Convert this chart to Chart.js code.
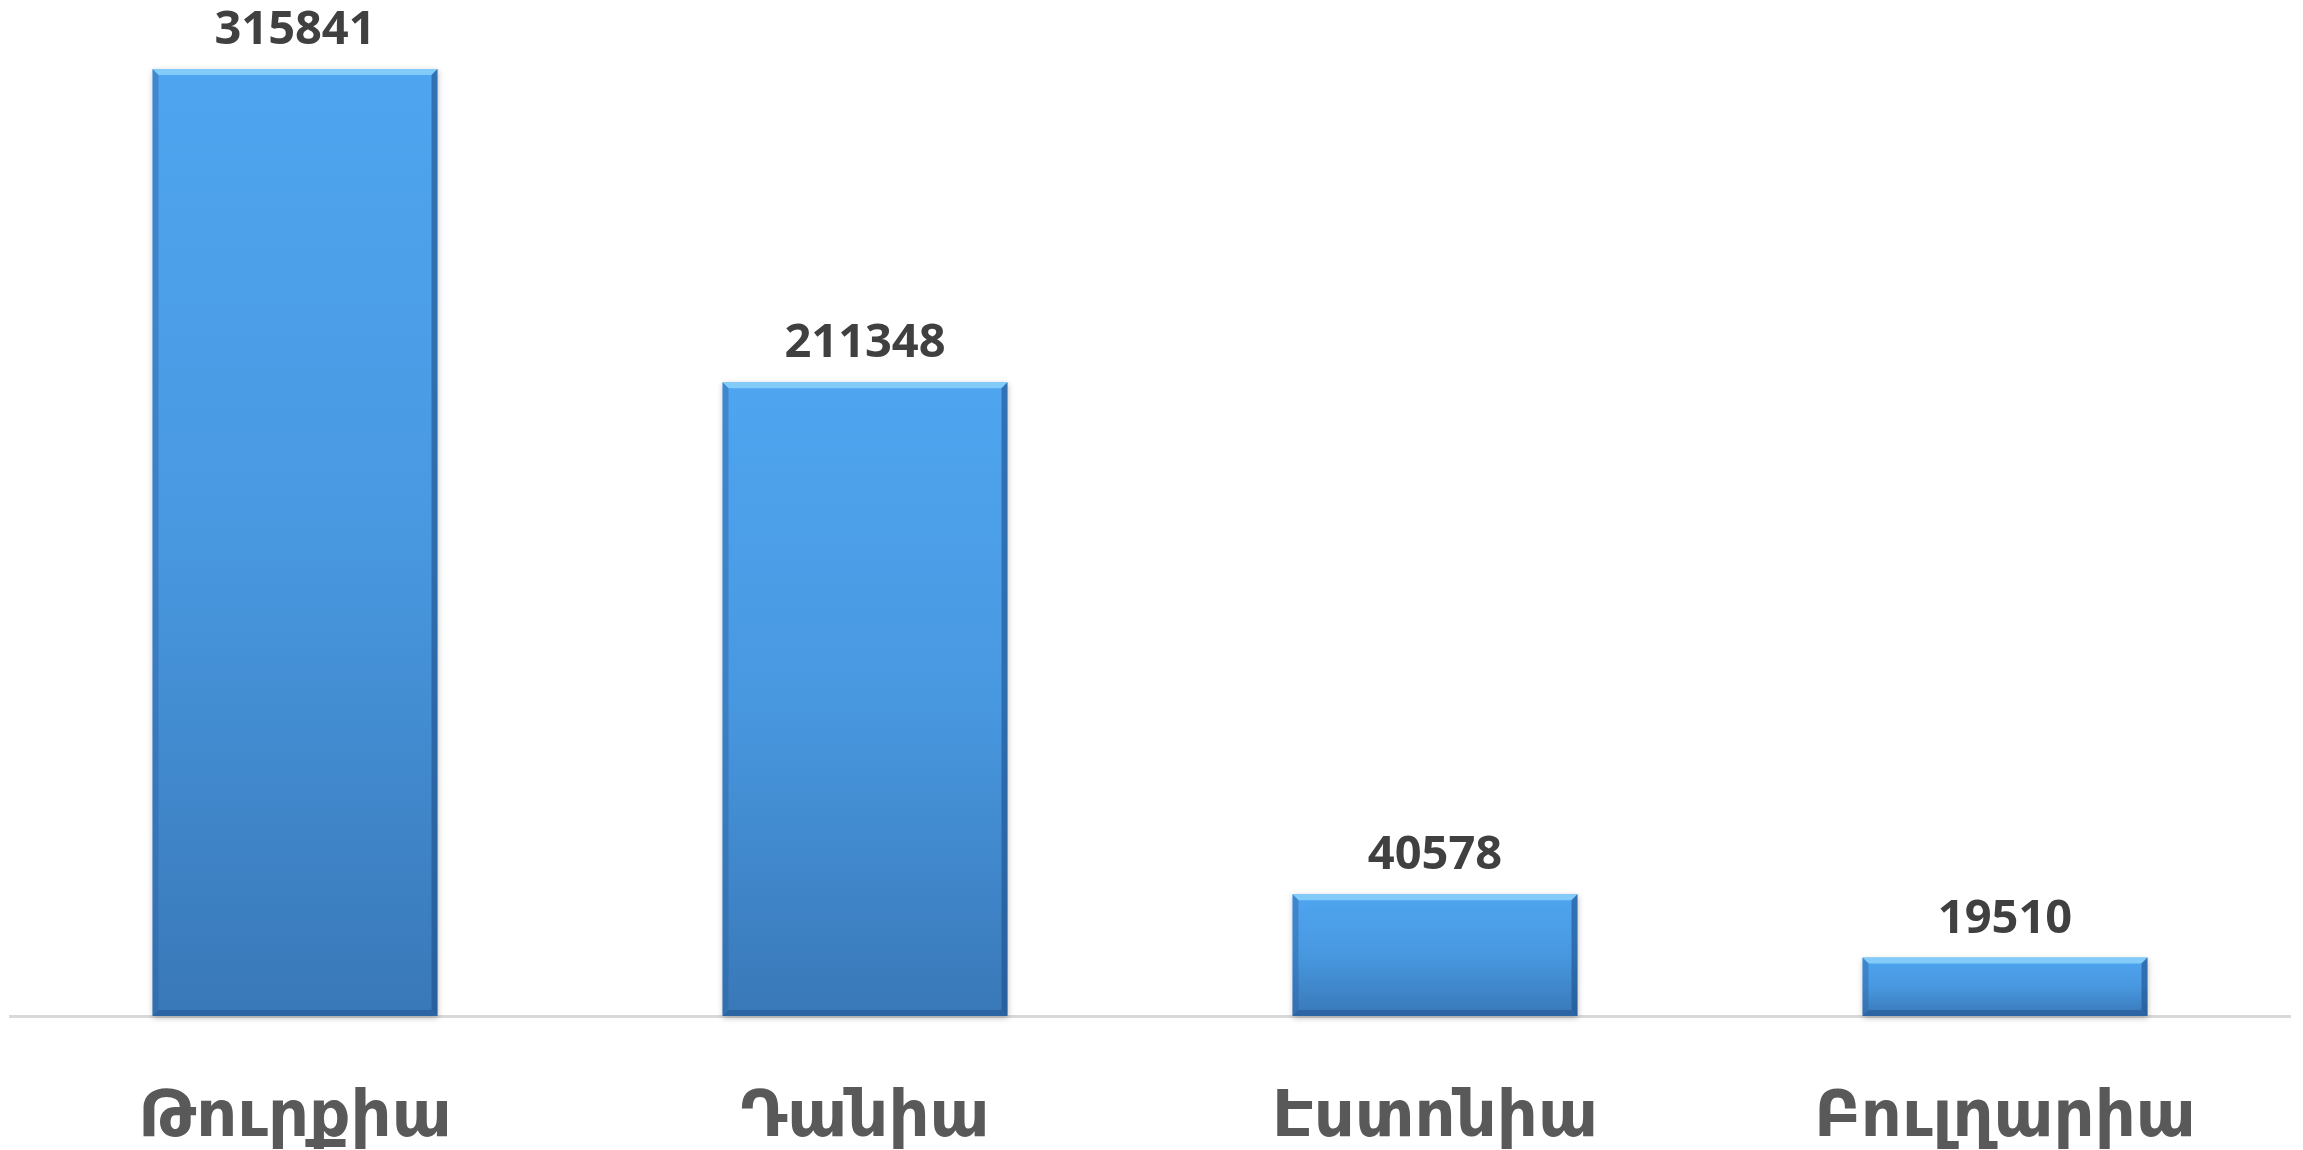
<!DOCTYPE html>
<html>
<head>
<meta charset="utf-8">
<script src="https://cdn.jsdelivr.net/npm/chart.js@4.4.1/dist/chart.umd.min.js"></script>
<style>
  html, body { margin: 0; padding: 0; background: #ffffff; }
  #wrap { width: 2303px; height: 1150px; position: relative; }
</style>
</head>
<body>
<div id="wrap"><canvas id="mycanvas"></canvas></div>
<script>
// chart data
var countries = ['Թուրքիա', 'Դանիա', 'Էստոնիա', 'Բուլղարիա'];
var counts = [315841, 211348, 40578, 19510];

// gradient per bar, light on top, darker at the base
function barFill(context) {
	var chart = context.chart;
	var yScale = chart.scales.y;
	if (!yScale || context.dataIndex === undefined) return '#4a97dc';
	var top = yScale.getPixelForValue(counts[context.dataIndex]);
	var base = yScale.getPixelForValue(0);
	if (!isFinite(top) || !isFinite(base) || base - top < 1) return '#4a97dc';
	var g = chart.ctx.createLinearGradient(0, top, 0, base);
	g.addColorStop(0, '#4fa5f0');
	g.addColorStop(0.5, '#4898e0');
	g.addColorStop(1, '#3978b8');
	return g;
}

// bevel edges + shadow like the office 3d style
var bevelPlugin = {
	id: 'bevel',
	beforeDatasetsDraw: function(chart) {
		var ctx = chart.ctx;
		var meta = chart.getDatasetMeta(0);
		ctx.save();
		meta.data.forEach(function(bar) {
			var l = bar.x - bar.width / 2;
			ctx.shadowColor = 'rgba(0,0,0,0.25)';
			ctx.shadowBlur = 6;
			ctx.shadowOffsetY = 2;
			ctx.fillStyle = '#ffffff';
			ctx.fillRect(l, bar.y, bar.width, bar.base - bar.y);
		});
		ctx.restore();
	},
	afterDatasetsDraw: function(chart) {
		var ctx = chart.ctx;
		var meta = chart.getDatasetMeta(0);
		var e = 6;
		ctx.save();
		meta.data.forEach(function(bar) {
			var l = bar.x - bar.width / 2, r = bar.x + bar.width / 2;
			var t = bar.y, b = bar.base;
			// top highlight
			ctx.fillStyle = 'rgba(140,210,250,0.85)';
			ctx.beginPath();
			ctx.moveTo(l, t); ctx.lineTo(r, t); ctx.lineTo(r - e, t + e); ctx.lineTo(l + e, t + e);
			ctx.closePath(); ctx.fill();
			// left edge
			ctx.fillStyle = 'rgba(45,100,165,0.45)';
			ctx.beginPath();
			ctx.moveTo(l, t); ctx.lineTo(l + e, t + e); ctx.lineTo(l + e, b - e); ctx.lineTo(l, b);
			ctx.closePath(); ctx.fill();
			// right edge
			ctx.fillStyle = 'rgba(30,80,140,0.6)';
			ctx.beginPath();
			ctx.moveTo(r, t); ctx.lineTo(r - e, t + e); ctx.lineTo(r - e, b - e); ctx.lineTo(r, b);
			ctx.closePath(); ctx.fill();
			// bottom edge
			ctx.fillStyle = 'rgba(30,80,140,0.5)';
			ctx.beginPath();
			ctx.moveTo(l, b); ctx.lineTo(l + e, b - e); ctx.lineTo(r - e, b - e); ctx.lineTo(r, b);
			ctx.closePath(); ctx.fill();
		});
		ctx.restore();
	}
};

// value labels above bars
var valuePlugin = {
	id: 'values',
	afterDatasetsDraw: function(chart) {
		var ctx = chart.ctx;
		var meta = chart.getDatasetMeta(0);
		ctx.save();
		ctx.font = 'bold 47px "Open Sans"';
		ctx.fillStyle = '#404040';
		ctx.textAlign = 'center';
		ctx.textBaseline = 'alphabetic';
		meta.data.forEach(function(bar, i) {
			ctx.fillText(String(counts[i]), bar.x, bar.y - 25);
		});
		ctx.restore();
	}
};

var ctx = document.getElementById('mycanvas');

var barGraph = new Chart(ctx, {
	type: 'bar',
	data: {
		labels: countries,
		datasets: [
			{
				label: 'count',
				data: counts,
				backgroundColor: barFill,
				borderWidth: 0,
				barPercentage: 0.5,
				categoryPercentage: 1.0
			}
		]
	},
	options: {
		responsive: true,
		maintainAspectRatio: false,
		animation: false,
		layout: { padding: { top: 0, left: 10, right: 13, bottom: 0 } },
		plugins: {
			legend: { display: false },
			tooltip: { enabled: false }
		},
		scales: {
			x: {
				grid: { display: false, drawTicks: false },
				border: { display: true, color: '#d9d9d9', width: 3 },
				ticks: {
					color: '#595959',
					padding: 71,
					font: { family: '"DejaVu Sans"', size: 64, weight: 'bold', lineHeight: 1.0 }
				},
				afterFit: function(scale) {
					scale.height = 134;
				}
			},
			y: {
				display: false,
				min: 0,
				max: 338850
			}
		}
	},
	plugins: [bevelPlugin, valuePlugin]
});
</script>
</body>
</html>
